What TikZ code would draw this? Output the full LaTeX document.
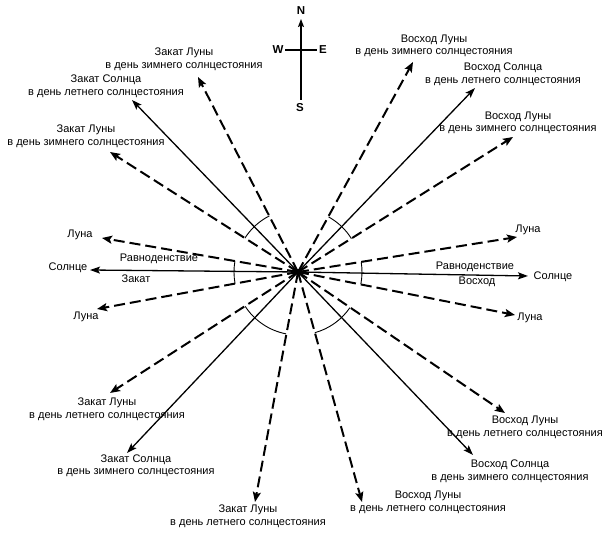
\documentclass[tikz,border=0pt]{standalone}
\usepackage{fontspec}
\setmainfont{Liberation Sans}
\usetikzlibrary{arrows.meta}
\begin{document}
\begin{tikzpicture}[x=1pt,y=1pt,
  lbl/.style={font=\fontsize{11}{12.5}\selectfont, align=center, inner sep=0pt},
  cmp/.style={font=\fontsize{11.5}{12}\selectfont\bfseries, inner sep=0pt},
  sunray/.style={line width=1.3pt, -{Stealth[length=10pt,width=7pt,inset=2pt]}},
  moonray/.style={line width=2pt, dash pattern=on 11pt off 5pt, -{Stealth[length=10pt,width=8pt,inset=2pt]}},
  anglemark/.style={line width=0.9pt}]
\useasboundingbox (0,0) rectangle (610,536);
\coordinate (C) at (298,264);
% tips
\coordinate (t1) at (198,459);
\coordinate (t2) at (132,436);
\coordinate (t3) at (110,384);
\coordinate (t4) at (102,298);
\coordinate (t5) at (90,266);
\coordinate (t6) at (97,227);
\coordinate (t7) at (110,143);
\coordinate (t8) at (127,83);
\coordinate (t9) at (255,34);
\coordinate (t10) at (362,34);
\coordinate (t11) at (473,81);
\coordinate (t12) at (505,123);
\coordinate (t13) at (515,221);
\coordinate (t14) at (528,260);
\coordinate (t15) at (517,299);
\coordinate (t16) at (513,399);
\coordinate (t17) at (475,448);
\coordinate (t18) at (413,474);
% sun rays
\foreach \t in {t2,t5,t8,t11,t14,t17} \draw[sunray] (C) -- (\t);
% moon rays
\foreach \t in {t1,t3,t4,t6,t7,t9,t10,t12,t13,t15,t16,t18} \draw[moonray] (C) -- (\t);
\fill (C) circle (3pt);
% angle marks
\draw[anglemark] (C) ++(117:63) arc[start angle=117, end angle=147.5, radius=63];
\draw[anglemark] (C) ++(32:63) arc[start angle=32, end angle=61, radius=63];
\draw[anglemark] (C) ++(170.5:64) arc[start angle=170.5, end angle=190.5, radius=64];
\draw[anglemark] (C) ++(-11:64) arc[start angle=-11, end angle=9, radius=64];
\draw[anglemark] (C) ++(213:63) arc[start angle=213, end angle=259, radius=63];
\draw[anglemark] (C) ++(-74.5:63) arc[start angle=-74.5, end angle=-34.5, radius=63];
% labels
\node[lbl] (l1) at (184,476.5) {Закат Луны\\в день зимнего солнцестояния};
\node[lbl] (l2) at (106,449.5) {Закат Солнца\\в день летнего солнцестояния};
\node[lbl] (l3) at (86,399.5) {Закат Луны\\в день зимнего солнцестояния};
\node[lbl] (l4) at (80,301) {Луна};
\node[lbl] (l5) at (68,268) {Солнце};
\node[lbl] (l6) at (159,277) {Равноденствие};
\node[lbl] (l7) at (136,257) {Закат};
\node[lbl] (l8) at (86,219) {Луна};
\node[lbl] (r1) at (528,306) {Луна};
\node[lbl] (r2) at (475,269) {Равноденствие};
\node[lbl] (r3) at (553,259) {Солнце};
\node[lbl] (r4) at (477,254) {Восход};
\node[lbl] (r5) at (530,218) {Луна};
\node[lbl] (tr1) at (434,490) {Восход Луны\\в день зимнего солнцестояния};
\node[lbl] (tr2) at (503,461.5) {Восход Солнца\\в день летнего солнцестояния};
\node[lbl] (tr3) at (518,413) {Восход Луны\\в день зимнего солнцестояния};
\node[lbl] (bl1) at (107,126.5) {Закат Луны\\в день летнего солнцестояния};
\node[lbl] (bl2) at (136,70) {Закат Солнца\\в день зимнего солнцестояния};
\node[lbl] (bl3) at (248,19.5) {Закат Луны\\в день летнего солнцестояния};
\node[lbl] (br1) at (525,108.5) {Восход Луны\\в день летнего солнцестояния};
\node[lbl] (br2) at (510,64.5) {Восход Солнца\\в день зимнего солнцестояния};
\node[lbl] (br3) at (428,33.5) {Восход Луны\\в день летнего солнцестояния};
% compass
\node[cmp] (N) at (301,525) {N};
\node[cmp] (S) at (300,428) {S};
\node[cmp] (W) at (278,486) {W};
\node[cmp] (E) at (323,486) {E};
\coordinate (cs) at (301,436);
\coordinate (cn) at (301,517);
\coordinate (cw) at (285,486);
\coordinate (ce) at (317,486);
\draw[line width=1.4pt, -{Stealth[length=8pt,width=6pt,inset=1.5pt]}] (cs) -- (cn);
\draw[line width=1.4pt] (cw) -- (ce);
\end{tikzpicture}
\end{document}
